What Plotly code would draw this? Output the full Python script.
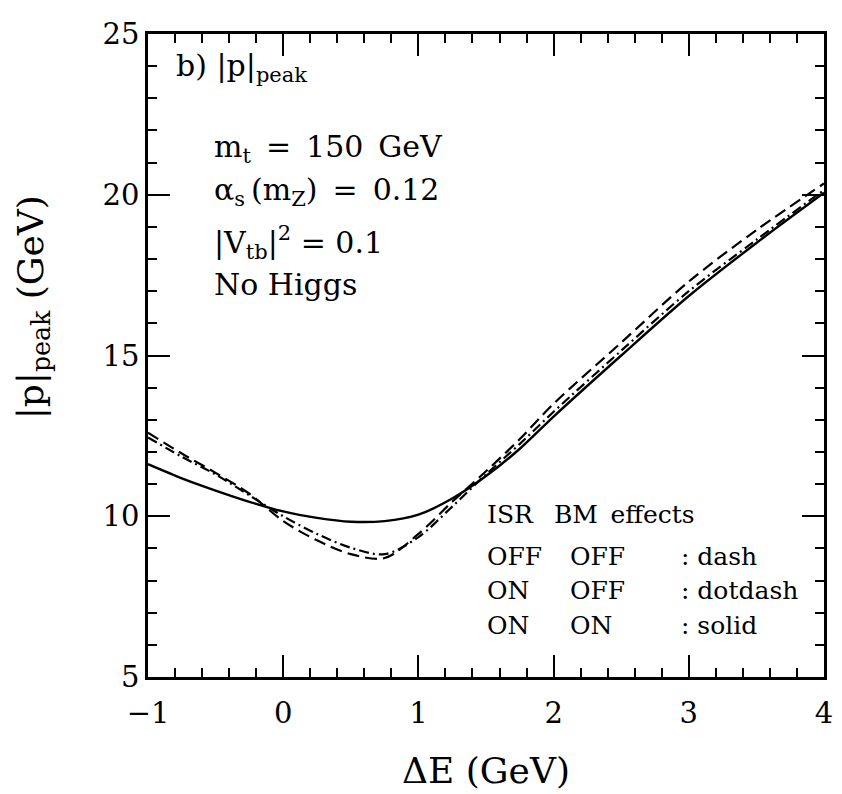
import plotly.graph_objects as go

# Delta E (GeV)
delta_e = [-1.0, -0.75, -0.5, -0.25, 0.0, 0.25, 0.5, 0.75, 1.0, 1.25, 1.5, 1.75, 2.0, 2.5, 3.0, 3.5, 4.0]
# |p|_peak (GeV) for the three settings
p_dash = [12.6, 11.95, 11.35, 10.7, 9.85, 9.25, 8.82, 8.7, 9.45, 10.45, 11.4, 12.4, 13.5, 15.4, 17.3, 18.9, 20.35]
p_dotdash = [12.45, 11.85, 11.3, 10.65, 10.0, 9.45, 9.02, 8.82, 9.35, 10.3, 11.3, 12.25, 13.25, 15.15, 17.0, 18.6, 20.15]
p_solid = [11.62, 11.18, 10.8, 10.45, 10.15, 9.95, 9.83, 9.85, 10.05, 10.55, 11.25, 12.1, 13.1, 15.0, 16.85, 18.5, 20.06]

x_ticks = [-1, 0, 1, 2, 3, 4]
x_tick_labels = ["\u22121", "0", "1", "2", "3", "4"]
y_ticks = [5, 10, 15, 20, 25]

FONT = "DejaVu Serif"

fig = go.Figure()
fig.add_trace(go.Scatter(x=delta_e, y=p_dash, mode="lines",
                         line=dict(color="black", width=2.2, dash="12px,6px", shape="spline", smoothing=0.9)))
fig.add_trace(go.Scatter(x=delta_e, y=p_dotdash, mode="lines",
                         line=dict(color="black", width=2.2, dash="10px,4px,2px,4px", shape="spline", smoothing=0.9)))
fig.add_trace(go.Scatter(x=delta_e, y=p_solid, mode="lines",
                         line=dict(color="black", width=2.4, shape="spline", smoothing=0.8)))

axis_common = dict(
    showgrid=False, zeroline=False, showline=True, linecolor="black", linewidth=2.5,
    mirror="allticks", ticks="inside", tickcolor="black", tickwidth=2,
    tickfont=dict(family=FONT, size=29, color="black"), ticklabeloverflow="allow",
)

fig.update_xaxes(range=[-1, 4], tickvals=x_ticks, ticktext=x_tick_labels, ticklen=22,
                 ticklabelstandoff=8,
                 minor=dict(dtick=0.2, tick0=0, ticks="inside", ticklen=9, tickcolor="black", tickwidth=2),
                 title=dict(text="\u0394E (GeV)", font=dict(family=FONT, size=36, color="black"), standoff=30),
                 **axis_common)
fig.update_yaxes(range=[5, 25], tickvals=y_ticks, ticklen=22,
                 minor=dict(dtick=1, tick0=0, ticks="inside", ticklen=9, tickcolor="black", tickwidth=2),
                 **axis_common)

# y-axis title (placed as in the reference, above the vertical centre)
fig.add_annotation(x=-0.17, y=0.575, xref="paper", yref="paper", text="|p|<sub>peak</sub> (GeV)",
                   showarrow=False, textangle=-90, xanchor="center", yanchor="middle",
                   font=dict(family=FONT, size=36, color="black"))

def note(x, y, text, size=30):
    fig.add_annotation(x=x, y=y, xref="x", yref="y", text=text, showarrow=False,
                       xanchor="left", yanchor="middle",
                       font=dict(family=FONT, size=size, color="black"))

SP = "\u2002"
TH = "\u2009"
note(-0.81, 23.95, "b) |p|<sub>peak</sub>", 30)
note(-0.53, 21.43, "m<sub>t</sub>" + SP + "=" + SP + "150" + SP + "GeV")
note(-0.53, 20.1, "\u03b1<sub>s</sub>" + TH + "(m<sub>Z</sub>)" + SP + "=" + SP + "0.12")
note(-0.53, 18.5, "|V<sub>tb</sub>|<sup>2</sup> = 0.1")
note(-0.53, 17.2, "No Higgs")

LS = 25
note(1.49, 10.06, "ISR", LS)
note(1.99, 10.06, "BM" + SP + "effects", LS)
rows = [(8.75, "OFF", "OFF", ": dash"), (7.68, "ON", "OFF", ": dotdash"), (6.59, "ON", "ON", ": solid")]
for yv, a, b, c in rows:
    note(1.49, yv, a, LS)
    note(2.11, yv, b, LS)
    note(2.93, yv, c, LS)

# the page body adds an 8px margin, so the figure is sized to fit the 842x794 window
fig.update_layout(width=834, height=786, autosize=False,
                  margin=dict(l=140, r=9, t=13, b=116),
                  plot_bgcolor="white", paper_bgcolor="white", showlegend=False)

fig.write_html("out.html")
